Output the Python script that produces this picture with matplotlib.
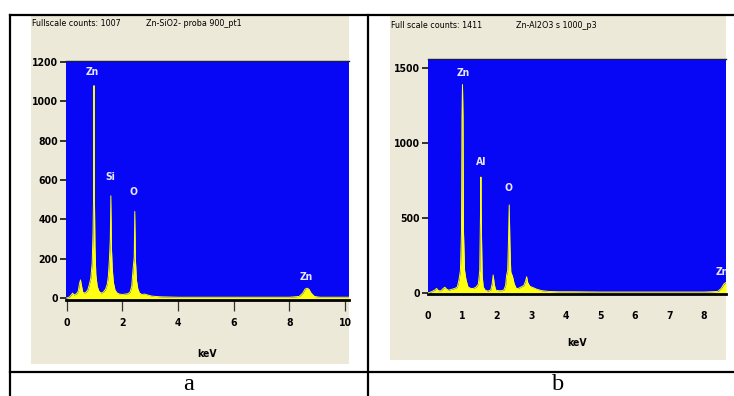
import matplotlib
matplotlib.use('Agg')
import matplotlib.pyplot as plt
from matplotlib.lines import Line2D
from matplotlib.patches import Rectangle

# ---------------- data ----------------
energy_a = [0.00, 0.10, 0.18, 0.22, 0.26, 0.30, 0.36, 0.42, 0.46, 0.50, 0.54, 0.58,
            0.64, 0.70, 0.76, 0.82, 0.87, 0.92, 0.95, 0.97, 0.985, 1.00, 1.02, 1.05,
            1.10, 1.16, 1.24, 1.32, 1.40, 1.46, 1.50, 1.54, 1.57, 1.59, 1.61, 1.64,
            1.68, 1.74, 1.82, 1.90, 2.00, 2.10, 2.20, 2.28, 2.34, 2.39, 2.43, 2.45,
            2.47, 2.51, 2.56, 2.62, 2.70, 2.80, 2.92, 3.05, 3.20, 3.40, 3.70, 4.00,
            5.00, 6.00, 7.00, 8.00, 8.35, 8.48, 8.56, 8.63, 8.70, 8.78, 8.90, 9.10,
            10.14]
counts_a = [0, 5, 18, 25, 15, 18, 22, 35, 70, 92, 60, 30,
            25, 30, 40, 70, 100, 180, 330, 520, 1080, 520, 260, 120,
            60, 35, 25, 30, 45, 70, 110, 200, 300, 520, 260, 150,
            80, 40, 25, 20, 18, 20, 22, 30, 60, 150, 210, 440,
            200, 90, 45, 25, 18, 20, 15, 10, 8, 6, 5, 4,
            4, 4, 4, 4, 8, 25, 45, 50, 45, 25, 8, 4,
            4]

energy_b = [0.00, 0.10, 0.20, 0.25, 0.30, 0.38, 0.44, 0.49, 0.54, 0.60, 0.70, 0.78,
            0.85, 0.90, 0.94, 0.97, 0.985, 1.00, 1.015, 1.03, 1.06, 1.10, 1.16, 1.24,
            1.32, 1.40, 1.46, 1.50, 1.52, 1.535, 1.55, 1.57, 1.60, 1.66, 1.74, 1.82,
            1.86, 1.89, 1.92, 1.96, 2.04, 2.14, 2.20, 2.25, 2.28, 2.31, 2.33, 2.355,
            2.375, 2.40, 2.45, 2.50, 2.56, 2.62, 2.70, 2.78, 2.83, 2.86, 2.89, 2.95,
            3.05, 3.15, 3.30, 3.50, 3.80, 4.20, 5.00, 6.00, 7.00, 8.00, 8.40, 8.50,
            8.58, 8.64]
counts_b = [0, 8, 20, 30, 15, 15, 30, 38, 25, 18, 25, 30,
            40, 90, 150, 400, 1170, 1390, 1170, 400, 150, 90, 40, 30,
            30, 40, 60, 150, 500, 773, 400, 120, 40, 18, 12, 20,
            60, 120, 60, 20, 15, 15, 20, 50, 120, 150, 320, 587,
            320, 140, 110, 60, 30, 30, 40, 50, 80, 108, 70, 45,
            35, 25, 15, 10, 8, 8, 6, 6, 6, 6, 10, 30,
            60, 70]

yticks_a = [0, 200, 400, 600, 800, 1000, 1200]
xticks_a = [0, 2, 4, 6, 8, 10]
yticks_b = [0, 500, 1000, 1500]
xticks_b = [0, 1, 2, 3, 4, 5, 6, 7, 8]
xmarks_b = [1, 2, 5]

peaks_a = [("Zn", 0.94, 1149), ("Si", 1.56, 615), ("O", 2.42, 539), ("Zn", 8.62, 107)]
peaks_b = [("Zn", 1.02, 1468), ("Al", 1.55, 875), ("O", 2.32, 700), ("Zn", 8.34, 140)]

header_a = ["Fullscale counts: 1007", "Zn-SiO2- proba 900_pt1"]
header_b = ["Full scale counts: 1411", "Zn-Al2O3 s 1000_p3"]
captions = ["a", "b"]

# ---------------- style ----------------
FAM = ['DejaVu Sans']
STRETCH = 'condensed'
SERIF = ['Liberation Serif', 'DejaVu Serif']

BLUE = '#0707F5'
YELLOW = '#FFFF10'
BEIGE = '#ECE9D8'

W, H, DPI = 734, 396, 100
fig = plt.figure(figsize=(W / DPI, H / DPI), dpi=DPI)
fig.patch.set_facecolor('white')


def rect(x0, y0, x1, y1):
    return [x0 / W, 1 - y1 / H, (x1 - x0) / W, (y1 - y0) / H]


def fx(x):
    return x / W


def fy(y):
    return 1 - y / H


# table lines
for xs, ys in [([10, 734], [15, 15]), ([10, 10], [15, 396]), ([368, 368], [15, 396]),
               ([10, 734], [372, 372])]:
    fig.add_artist(Line2D([fx(v) for v in xs], [fy(v) for v in ys], color='black',
                          lw=1.6, transform=fig.transFigure))

# beige panels
for (x0, y0, x1, y1) in [(31, 16, 349, 364), (390, 16, 726, 360)]:
    fig.add_artist(Rectangle((fx(x0), fy(y1)), (x1 - x0) / W, (y1 - y0) / H,
                             transform=fig.transFigure, facecolor=BEIGE,
                             edgecolor='none', zorder=-1))

TK = dict(family=FAM, fontstretch=STRETCH, fontsize=7.5, fontweight='bold')


def make_panel(r, energy, counts, xlim, ylim, yticks, xticks, peaks, b_style):
    ax = fig.add_axes(r)
    ax.set_facecolor(BLUE)
    ax.fill_between(energy, ylim[0], counts, color=YELLOW, lw=0, zorder=2)
    ax.plot(energy, counts, color=YELLOW, lw=0.7, zorder=3)
    ax.set_xlim(*xlim)
    ax.set_ylim(*ylim)
    ax.set_yticks(yticks)
    ax.set_yticklabels([str(v) for v in yticks], **TK)
    ax.set_xticks(xticks)
    ax.set_xticklabels([str(v) for v in xticks], **TK)
    for s in ['left', 'right']:
        ax.spines[s].set_visible(False)
    ax.spines['top'].set_color('#1a1a50')
    ax.spines['top'].set_linewidth(1.0)
    ax.spines['bottom'].set_color('black')
    ax.spines['bottom'].set_linewidth(2.0)
    ax.tick_params(axis='y', length=4.5, width=1.1, color='black', pad=1.5)
    if b_style:
        ax.tick_params(axis='x', length=0, pad=12)
        ax.set_xticks(xmarks_b, minor=True)
        ax.tick_params(axis='x', which='minor', length=7.5, width=1.2, color='black')
        ax.set_xlabel('keV', labelpad=12.5, **TK)
    else:
        ax.tick_params(axis='x', length=8, width=0.9, color='#333333', pad=5)
        ax.set_xlabel('keV', labelpad=15, **TK)
    for name, x, y in peaks:
        ax.text(x, y, name, color='#E6E6FF', ha='center' if (x < 8.3 or not b_style) else 'left',
                va='center', family=FAM, fontstretch=STRETCH, fontsize=7.5,
                fontweight='bold', clip_on=True, zorder=4)
    return ax


ax_a = make_panel(rect(66, 61, 349, 300), energy_a, counts_a, (-0.02, 10.14),
                  (-10, 1205), yticks_a, xticks_a, peaks_a, False)
ax_b = make_panel(rect(428, 59, 726, 294), energy_b, counts_b, (0, 8.64),
                  (-7, 1560), yticks_b, xticks_b, peaks_b, True)

# headers
HD = dict(ha='left', va='center', family=FAM, fontstretch=STRETCH, fontsize=6.4)
fig.text(fx(32), fy(23), header_a[0], **HD)
fig.text(fx(146), fy(23), header_a[1], **HD)
fig.text(fx(391), fy(26), header_b[0], **HD)
fig.text(fx(516), fy(26), header_b[1], **HD)

# captions
fig.text(fx(189), fy(395.5), captions[0], ha='center', va='bottom', family=SERIF,
         fontsize=17.5)
fig.text(fx(558), fy(395.5), captions[1], ha='center', va='bottom', family=SERIF,
         fontsize=17.5)

fig.savefig('out.png', dpi=DPI, facecolor='white')
